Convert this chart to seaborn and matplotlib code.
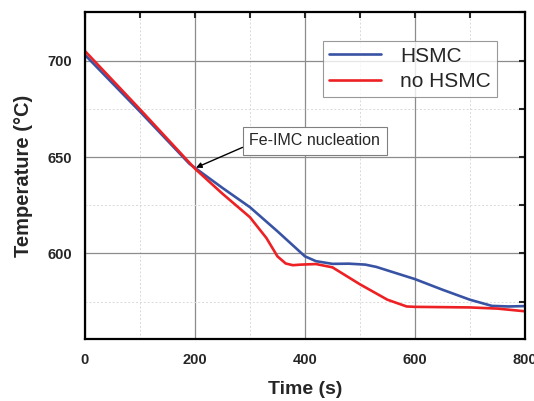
import matplotlib
matplotlib.use("Agg")
import matplotlib.pyplot as plt
from matplotlib.ticker import MultipleLocator
import pandas as pd
import seaborn as sns

# cooling curves
hsmc_time = [0, 100, 190, 250, 300, 350, 400, 420, 450, 480, 510, 530, 600, 650, 700, 740, 770, 800]
hsmc_temp = [703, 673.6, 646.5, 634, 624, 611.5, 598.5, 596, 594.6, 594.7, 594.2, 593, 586.7, 581.2, 576, 572.8, 572.5, 572.7]

nohsmc_time = [0, 100, 200, 250, 300, 330, 350, 365, 378, 392, 420, 450, 500, 550, 585, 600, 700, 750, 800]
nohsmc_temp = [705, 674.8, 644, 631, 618.8, 608, 598.5, 594.8, 593.9, 594.2, 594.5, 592.8, 584, 576, 572.5, 572.3, 572, 571.4, 570]

series_names = ["HSMC", "no HSMC"]
series_colors = ["#3953a4", "#ed2024"]

df = pd.concat([
    pd.DataFrame({"Time": hsmc_time, "Temp": hsmc_temp, "Sample": series_names[0]}),
    pd.DataFrame({"Time": nohsmc_time, "Temp": nohsmc_temp, "Sample": series_names[1]}),
])

sns.set_style("white")
plt.rcParams["font.family"] = ["Liberation Sans", "DejaVu Sans"]

fig = plt.figure(figsize=(5.34, 4.01), dpi=100)
ax = fig.add_axes([0.159, 0.154, 0.824, 0.815])

sns.lineplot(data=df, x="Time", y="Temp", hue="Sample", palette=series_colors,
             linewidth=1.9, sort=False, estimator=None, ax=ax)

ax.set_xlim(0, 800)
ax.set_ylim(555.5, 725)
ax.xaxis.set_major_locator(MultipleLocator(200))
ax.xaxis.set_minor_locator(MultipleLocator(100))
ax.yaxis.set_major_locator(MultipleLocator(50))
ax.yaxis.set_minor_locator(MultipleLocator(25))

ax.grid(which="major", color="#8c8c8c", linewidth=0.9)
ax.grid(which="minor", color="#d9d9d9", linewidth=0.7, linestyle=(0, (2, 2)))
ax.set_axisbelow(True)

ax.tick_params(which="both", direction="in", top=True, right=True, length=4, width=1.5)
ax.tick_params(axis="x", which="major", pad=10)
ax.tick_params(axis="y", which="major", pad=9)
for lbl in ax.get_xticklabels() + ax.get_yticklabels():
    lbl.set_fontweight("bold")
    lbl.set_fontsize(10.5)
for sp in ax.spines.values():
    sp.set_linewidth(1.6)
    sp.set_color("black")

ax.set_xlabel("Time (s)", fontsize=14, fontweight="bold", labelpad=10)
ax.set_ylabel("Temperature (°C)", fontsize=14.5, fontweight="bold", labelpad=11)

leg = ax.legend(loc="upper right", bbox_to_anchor=(0.936, 0.914), borderaxespad=0,
                fontsize=15, frameon=True, fancybox=False, edgecolor="#808080",
                handlelength=2.5, handletextpad=0.9, borderpad=0.3, labelspacing=0.3)
leg.get_frame().set_linewidth(0.8)

ax.annotate("Fe-IMC nucleation", xy=(202, 644.5), xytext=(299, 658.5),
            fontsize=11.5, ha="left", va="center",
            bbox=dict(boxstyle="square,pad=0.4", fc="white", ec="#808080", lw=0.8),
            arrowprops=dict(arrowstyle="-|>", color="black", lw=1.0, shrinkA=0, shrinkB=0,
                            mutation_scale=8, relpos=(0, 0.25)))

fig.savefig("out.png", dpi=100)
